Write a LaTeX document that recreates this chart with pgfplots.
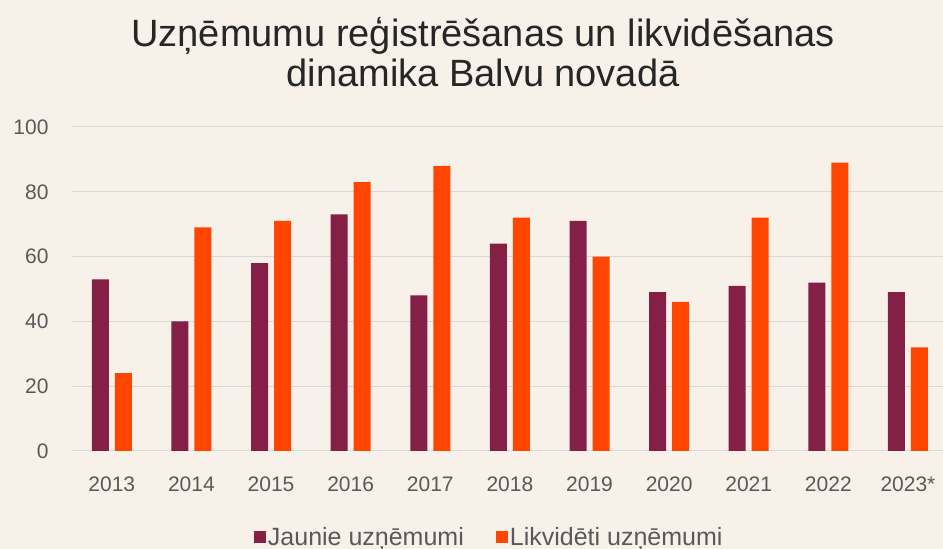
\documentclass[border=0pt]{standalone}
\usepackage{fontspec}
\setmainfont{Liberation Sans}
\usepackage{pgfplots}
\pgfplotsset{compat=1.18}
\definecolor{bg}{HTML}{F8F1EA}
\definecolor{cJ}{HTML}{841F46}
\definecolor{cL}{HTML}{FF4500}
\definecolor{tickc}{HTML}{595959}
\definecolor{gridc}{HTML}{D9D9D9}
\begin{document}
\begin{tikzpicture}[x=1pt,y=1pt]
\useasboundingbox (0,0) rectangle (943,549);
\fill[bg] (0,0) rectangle (943,549);
\clip (0,0) rectangle (943,549);
\node[font=\fontsize{38}{40}\selectfont, align=center, text=black!85] at (483,497) {Uzņēmumu reģistrēšanas un likvidēšanas\\dinamika Balvu novadā};
\begin{axis}[
  at={(72pt,98pt)}, anchor=south west,
  scale only axis, width=871pt, height=324pt,
  xmin=-0.5, xmax=10.44, ymin=0, ymax=100,
  ybar=6pt, bar width=17pt,
  axis line style={draw=none}, tick style={draw=none},
  ytick={0,20,...,100},
  ymajorgrids, major grid style={gridc, line width=1pt},
  xtick={0,...,10},
  xticklabels={2013,2014,2015,2016,2017,2018,2019,2020,2021,2022,2023*},
  /pgf/number format/assume math mode=true,
  ticklabel style={font=\fontsize{21}{21}\selectfont, text=tickc},
  xticklabel style={yshift=-18pt},
  yticklabel style={xshift=-20pt},
  legend style={at={(0.479,-0.265)}, anchor=center, draw=none, fill=none,
    legend columns=2, font=\fontsize{25}{25}\selectfont, text=tickc,
    /tikz/every even column/.append style={column sep=30pt}},
  legend image code/.code={\fill[#1] (0pt,-6pt) rectangle (12pt,6pt);},
]
\addplot[fill=cJ, draw=none] coordinates {(0,53)(1,40)(2,58)(3,73)(4,48)(5,64)(6,71)(7,49)(8,51)(9,52)(10,49)};
\addplot[fill=cL, draw=none] coordinates {(0,24)(1,69)(2,71)(3,83)(4,88)(5,72)(6,60)(7,46)(8,72)(9,89)(10,32)};
\legend{Jaunie uzņēmumi, Likvidēti uzņēmumi}
\end{axis}
\end{tikzpicture}
\end{document}
